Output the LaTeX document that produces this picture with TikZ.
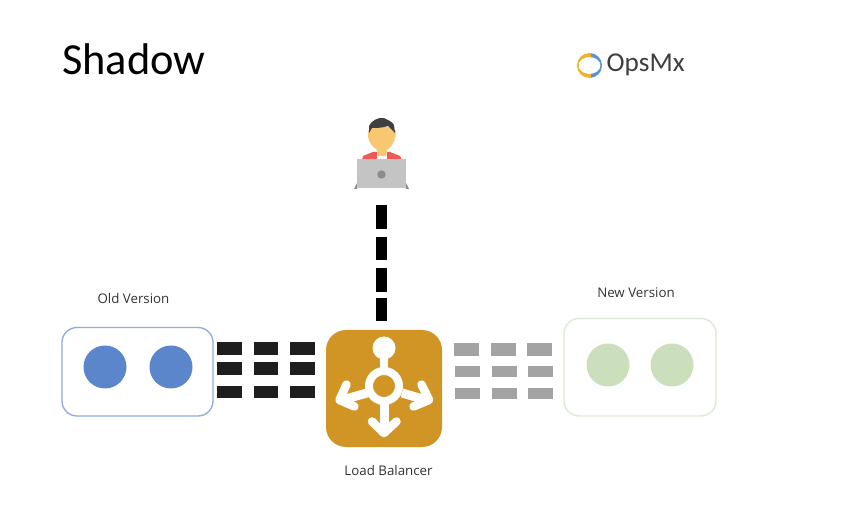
\documentclass[tikz,border=0pt]{standalone}
\usepackage{fontspec}
\setmainfont{Open Sans}
\newfontfamily\titlefont{Carlito}
\definecolor{oldblue}{HTML}{5B86CB}
\definecolor{oldedge}{HTML}{8FAADC}
\definecolor{newgreen}{HTML}{CCDFBD}
\definecolor{newedge}{HTML}{DCE8D2}
\definecolor{lbgold}{HTML}{D19526}
\definecolor{darkdash}{HTML}{1E1E1E}
\definecolor{greydash}{HTML}{A3A3A3}
\definecolor{lbl}{HTML}{333333}
\definecolor{hair}{HTML}{3F3F3F}
\definecolor{skin}{HTML}{F8C771}
\definecolor{jacket}{HTML}{EE5A55}
\definecolor{lap}{HTML}{C4C4C4}
\definecolor{lapdark}{HTML}{8C8C8C}
\definecolor{logoy}{HTML}{EDB32F}
\definecolor{logob}{HTML}{5B93D3}
\tikzset{
  lblnode/.style={text=lbl,font=\fontsize{13.3}{16}\selectfont,inner sep=0pt,anchor=center},
  versionbox/.style={draw,line width=1.3pt,rounded corners=15pt,fill=white},
  pod/.style={circle,minimum size=43pt,inner sep=0pt},
  olddash/.style={fill=darkdash},
  newdash/.style={fill=greydash},
  iconline/.style={draw=white,line width=9pt},
  iconarm/.style={draw=white,line width=8.5pt,line cap=round,line join=round},
}
\begin{document}
\begin{tikzpicture}[x=1pt,y=-1pt]
\useasboundingbox (0,0) rectangle (846,518);
\fill[white] (0,0) rectangle (846,518);

% title
\node[anchor=west,inner sep=0pt,font=\titlefont\fontsize{44.4}{50}\selectfont,text=black] (title) at (62,59) {Shadow};

% logo
\begin{scope}
  \clip (570,45) rectangle (591,85);
  \fill[logoy,even odd rule] (589.5,65.5) ellipse [x radius=12.5,y radius=12.5] (589.5,65.5) ellipse [x radius=11,y radius=8.5];
\end{scope}
\begin{scope}
  \clip (591,45) rectangle (610,85);
  \fill[logob,even odd rule] (589.5,65.5) ellipse [x radius=12.5,y radius=12.5] (589.5,65.5) ellipse [x radius=11,y radius=8.5];
\end{scope}
\node[anchor=west,inner sep=0pt,text=hair,font=\titlefont\fontsize{27.2}{32}\selectfont] (logo) at (606.5,65) {OpsMx};

% person
\fill[jacket] (362,160) -- (363,156) -- (373,152) -- (390,152) -- (400,156) -- (402,160) -- cycle;
\fill[white!90!lap] (377,152) -- (387,152) -- (387,160) -- (377,160) -- cycle;
\fill[skin] (368,131) .. controls (372,126) and (390,124) .. (396,131) .. controls (396,140) and (392,147) .. (387,150) -- (386,156) -- (378,156) -- (377,150) .. controls (372,147) and (367,140) .. (368,131) -- cycle;
\fill[hair] (369,133) -- (369,126) .. controls (371,121) and (378,117) .. (384,118) .. controls (387,120) and (392,121) .. (394,125) -- (395,133) -- (392,130) -- (388,126) .. controls (382,128) and (376,128) .. (372,128) -- cycle;
\fill[lapdark] (354,189) -- (357,183) -- (357,189) -- cycle;
\fill[lapdark] (409,189) -- (406,183) -- (406,189) -- cycle;
\fill[lap] (357,159) rectangle (406,188);
\fill[lapdark] (381.5,174.5) circle (4.2);

% vertical dashes
\foreach \a/\b in {205/229,237/260,268/292,298/321}
  \fill[black] (376,\a) rectangle (387,\b);

% old version
\node[lblnode] (oldlabel) at (133.5,299) {Old Version};
\draw[versionbox,draw=oldedge] (62,327.5) rectangle (213,416);
\node[pod,fill=oldblue] (old1) at (105,367) {};
\node[pod,fill=oldblue] (old2) at (171,367) {};
\foreach \x/\w in {217/242,254/278,290/315}
  \foreach \a/\b in {342/355,362/375,386/398}
    \fill[olddash] (\x,\a) rectangle (\w,\b);

% new version
\node[lblnode] (newlabel) at (636,293) {New Version};
\draw[versionbox,draw=newedge] (564,318.5) rectangle (716,416);
\node[pod,fill=newgreen] (new1) at (608,365) {};
\node[pod,fill=newgreen] (new2) at (672,365) {};
\foreach \x/\w in {454/479,491/516,527/552}
  \fill[newdash] (\x,343) rectangle (\w,356);
\foreach \x/\w in {455/480,492/517,528/553}
  \foreach \a/\b in {366/377,388/399}
    \fill[newdash] (\x,\a) rectangle (\w,\b);

% load balancer
\fill[lbgold,rounded corners=20pt] (326,330) rectangle (442,447);
\fill[white] (384,348) circle (11.5);
\draw[white,line width=8pt] (384,352) -- (384,372);
\draw[iconline] (384,400) -- (384,430);
\draw[iconline] (367,393) -- (342,400);
\draw[iconline] (402,393) -- (426,400);
\draw[iconarm] (372,421.5) -- (384,433) -- (396.5,421.5);
\draw[iconarm] (346.5,384.5) -- (339.5,400) -- (354.5,406.5);
\draw[iconarm] (421.5,384.5) -- (429,400) -- (413.5,406.5);
\draw[white,line width=8pt,fill=lbgold] (384,386) circle (15);
\node[lblnode] (lblabel) at (388.5,471) {Load Balancer};
\end{tikzpicture}
\end{document}
